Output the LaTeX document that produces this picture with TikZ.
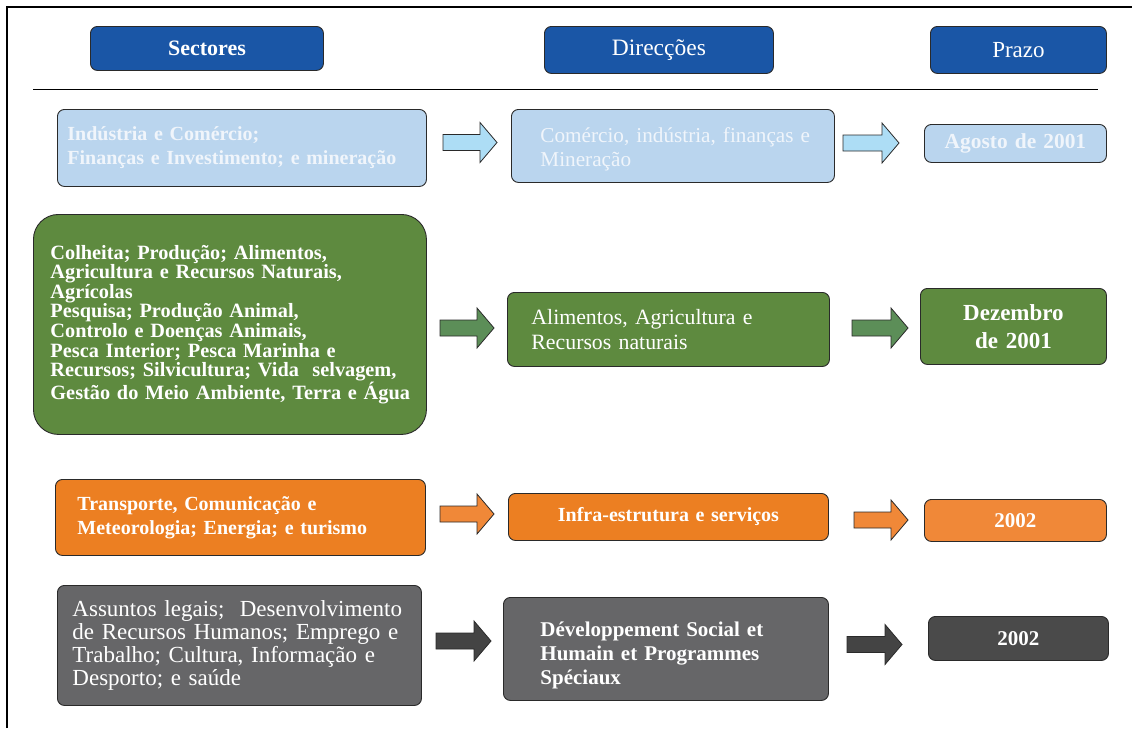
\documentclass[tikz,border=0pt]{standalone}
\usepackage{fontspec}
\setmainfont{Liberation Serif}
\definecolor{hdrblue}{HTML}{1A56A6}
\definecolor{lblue}{HTML}{BAD5EE}
\definecolor{lbluearrow}{HTML}{ADDDF5}
\definecolor{ltext}{HTML}{F0F5FB}
\definecolor{gbox}{HTML}{5E8A3F}
\definecolor{garrow}{HTML}{5C8E58}
\definecolor{obox}{HTML}{EC7F22}
\definecolor{oarrow}{HTML}{F08838}
\definecolor{graybox}{HTML}{666668}
\definecolor{darkbox}{HTML}{4A4A4A}
\definecolor{darrow}{HTML}{444444}
\definecolor{edge}{HTML}{2A2A2A}
\newcommand{\blockarrow}[4]{% x0, x1, yc, colour
  \draw[edge, line width=0.8pt, fill=#4] (#1,#3-8) -- (#2-17,#3-8) -- (#2-17,#3-20) -- (#2,#3)
    -- (#2-17,#3+20) -- (#2-17,#3+8) -- (#1,#3+8) -- cycle;}
\begin{document}
\begin{tikzpicture}[x=1pt,y=-1pt,
  box/.style={draw=edge, line width=0.9pt, rounded corners=7pt, inner ysep=0pt, text=white, anchor=north west, align=left},
  hdr/.style={box, fill=hdrblue, inner xsep=0pt, align=center},
  ctr/.style={inner xsep=0pt, align=center},
]
\useasboundingbox (0,0) rectangle (1132,728);
\draw[line width=1.1pt] (7,728) -- (7,7) -- (1132,7);
% headers
\node[hdr, minimum width=233, minimum height=44, font=\fontsize{22}{24}\selectfont\bfseries] (hs) at (90,26) {Sectores};
\node[hdr, minimum width=229, minimum height=47, font=\fontsize{23.5}{24}\selectfont] (hd) at (544,26) {Direcções};
\node[hdr, minimum width=176, minimum height=47, font=\fontsize{23}{24}\selectfont] (hp) at (930,26) {Prazo};
\draw[line width=1pt] (33,89) -- (1098,89);
% row 1
\node[box, fill=lblue, text=ltext, font=\fontsize{20}{24}\selectfont\bfseries, inner xsep=10, text width=349, minimum height=77] (s1) at (57,109)
  {Indústria e Comércio;\\Finanças e Investimento; e mineração};
\node[box, fill=lblue, text=ltext, font=\fontsize{21.2}{24}\selectfont, inner xsep=29, text width=265, minimum height=73] (d1) at (511,109)
  {\mbox{}\\[-3pt]\mbox{Comércio, indústria, finanças e}\\Mineração};
\node[box, ctr, fill=lblue, text=ltext, font=\fontsize{21.4}{24}\selectfont\bfseries, text width=182, minimum height=38] (p1) at (924,124)
  {Agosto de 2001};
\blockarrow{443}{497}{142.5}{lbluearrow}
\blockarrow{843}{899}{143}{lbluearrow}
% row 2
\node[box, fill=gbox, rounded corners=25pt, font=\fontsize{20.3}{19.6}\selectfont\bfseries, inner xsep=17, text width=359, minimum height=220] (s2) at (33,214)
  {Colheita; Produção; Alimentos,\\Agricultura e Recursos Naturais,\\Agrícolas\\Pesquisa; Produção Animal,\\Controlo e Doenças Animais,\\Pesca Interior; Pesca Marinha e\\Recursos; Silvicultura; Vida\ \ selvagem,\\\mbox{Gestão do Meio Ambiente, Terra e Água}};
\node[box, fill=gbox, font=\fontsize{21.8}{25}\selectfont, inner xsep=24, text width=274, minimum height=74] (d2) at (507,292)
  {Alimentos, Agricultura e\\Recursos naturais};
\node[box, ctr, fill=gbox, font=\fontsize{23}{28}\selectfont\bfseries, text width=186, minimum height=76] (p2) at (920,288)
  {Dezembro\\de 2001};
\blockarrow{440}{494}{328}{garrow}
\blockarrow{852}{908}{328}{garrow}
% row 3
\node[box, fill=obox, font=\fontsize{20}{24}\selectfont\bfseries, inner xsep=22, text width=326, minimum height=76] (s3) at (55,479)
  {Transporte, Comunicação e\\Meteorologia; Energia; e turismo};
\node[box, ctr, fill=obox, font=\fontsize{20}{24}\selectfont\bfseries, text width=320, minimum height=47] (d3) at (508,493)
  {Infra-estrutura e serviços};
\node[box, ctr, fill=oarrow, font=\fontsize{21}{24}\selectfont\bfseries, text width=182, minimum height=42] (p3) at (924,499)
  {2002};
\blockarrow{440}{494}{514}{oarrow}
\blockarrow{854}{908}{520}{oarrow}
% row 4
\node[box, fill=graybox, font=\fontsize{23}{23}\selectfont, inner xsep=15, text width=334, minimum height=120] (s4) at (57,585)
  {Assuntos legais;\ \ Desenvolvimento\\de Recursos Humanos; Emprego e\\Trabalho; Cultura, Informação e\\Desporto; e saúde};
\node[box, fill=graybox, font=\fontsize{21}{24}\selectfont\bfseries, inner xsep=37, text width=251, minimum height=103] (d4) at (503,597)
  {\mbox{}\\[3pt]Développement Social et\\Humain et Programmes\\Spéciaux};
\node[box, ctr, fill=darkbox, font=\fontsize{21}{24}\selectfont\bfseries, text width=180, minimum height=44] (p4) at (928,616)
  {2002};
\blockarrow{436}{491}{641}{darrow}
\blockarrow{847}{902}{644.5}{darrow}
\end{tikzpicture}
\end{document}
